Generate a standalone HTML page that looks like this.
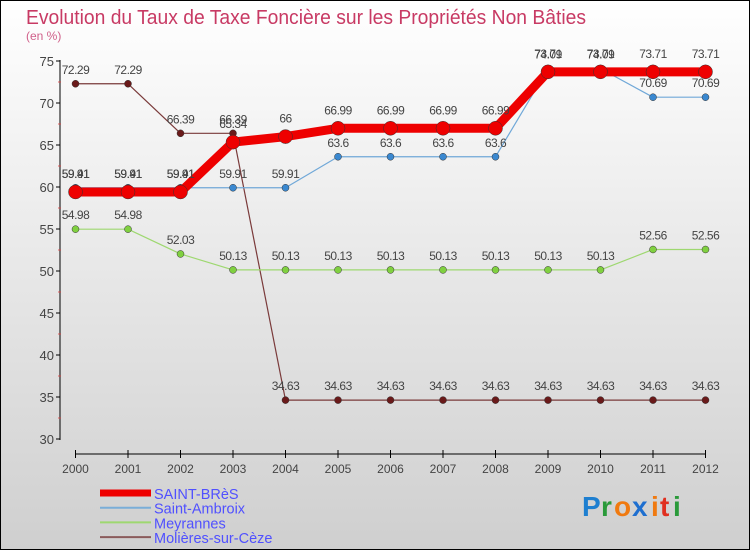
<!DOCTYPE html>
<html><head><meta charset="utf-8"><style>
body{margin:0;width:750px;height:550px;overflow:hidden;font-family:"Liberation Sans",sans-serif}
svg{display:block}
</style></head><body>
<svg id="c" width="750" height="550" viewBox="0 0 750 550">
<defs><linearGradient id="bg" x1="0" y1="0" x2="0" y2="1"><stop offset="0" stop-color="#ffffff"/><stop offset="1" stop-color="#cfcfcf"/></linearGradient></defs>
<rect x="0.5" y="0.5" width="749" height="549" fill="url(#bg)" stroke="#000"/>
<text x="26" y="24" font-size="20" fill="#c83a64" textLength="560" lengthAdjust="spacingAndGlyphs">Evolution du Taux de Taxe Foncière sur les Propriétés Non Bâties</text>
<text x="26" y="40" font-size="12" fill="#d0608a">(en %)</text>
<g id="axes"></g>
<g id="series"></g>
<g id="legend"></g>
<g font-size="28" font-weight="bold">
<text x="582" y="516" fill="#1e7fd0">P</text><text x="601" y="516" fill="#2a9a3a">r</text><text x="614" y="516" fill="#f07a10">o</text><text x="632" y="516" fill="#1e6fd0">x</text><text x="651" y="516" fill="#f07a10">i</text><text x="660" y="516" fill="#e03020">t</text><text x="673" y="516" fill="#2a9a3a">i</text>
</g>
</svg>
<script>
const years=[2000,2001,2002,2003,2004,2005,2006,2007,2008,2009,2010,2011,2012];
const yTicks=[30,35,40,45,50,55,60,65,70,75];
const saintBres=[59.41,59.41,59.41,65.34,66,66.99,66.99,66.99,66.99,73.71,73.71,73.71,73.71];
const saintAmbroix=[59.91,59.91,59.91,59.91,59.91,63.6,63.6,63.6,63.6,74.09,74.09,70.69,70.69];
const meyrannes=[54.98,54.98,52.03,50.13,50.13,50.13,50.13,50.13,50.13,50.13,50.13,52.56,52.56];
const molieres=[72.29,72.29,66.39,66.39,34.63,34.63,34.63,34.63,34.63,34.63,34.63,34.63,34.63];
const NS="http://www.w3.org/2000/svg";
const X=i=>75.5+i*(705.5-75.5)/(years.length-1);
const Y=v=>439-(v-30)*(439-61)/45;
function el(t,a,p){const e=document.createElementNS(NS,t);for(const k in a)e.setAttribute(k,a[k]);p.appendChild(e);return e;}
const ax=document.getElementById('axes');
const yl=el('line',{x1:60,y1:60,x2:60,y2:440,stroke:'#000'},ax);


for(let v=32.5;v<75;v+=5){el('line',{x1:58,x2:61,y1:Y(v),y2:Y(v),stroke:'#e04040','stroke-width':0.8},ax);}
yTicks.forEach(v=>{
 el('line',{x1:56,x2:60,y1:Y(v),y2:Y(v),stroke:'#000'},ax);
 const t=el('text',{x:54,y:Y(v)+5,'text-anchor':'end','font-size':13,fill:'#444'},ax);t.textContent=v;
 
 
});
const xl=el('line',{x1:75,y1:454,x2:706,y2:454,stroke:'#000'},ax);


years.forEach((y,i)=>{
 el('line',{x1:X(i),x2:X(i),y1:450,y2:458,stroke:'#000'},ax);
 const t=el('text',{x:X(i),y:473,'text-anchor':'middle','font-size':12,fill:'#444'},ax);t.textContent=y;
 
 
});
const sg=document.getElementById('series');
function draw(data,name,color,w,r,dot,lab){
 const g=el('g',{},sg);
 
 
 const p=el('polyline',{points:data.map((v,i)=>X(i)+','+Y(v)).join(' '),fill:'none',stroke:color,'stroke-width':w,'stroke-linejoin':'round'},g);
 
 
 data.forEach((v,i)=>{
  const c=el('circle',{cx:X(i),cy:Y(v),r:r,fill:dot,stroke:'#333','stroke-width':0.5},g);
  
  
  const t=el('text',{x:X(i),y:Y(v)-lab,'text-anchor':'middle','font-size':12,fill:'#444','letter-spacing':'-0.5'},g);t.textContent=String(v);
  
  
 });
}
draw(molieres,'molieres-sur-ceze','#7a3a3a',1.2,3.5,'#6a1a1a',10);
draw(meyrannes,'meyrannes','#9ed870',1.2,3.5,'#80d040',10);
draw(saintAmbroix,'saint-ambroix','#70a8d8',1.2,3.5,'#3a88d0',10);
draw(saintBres,'saint-bres','#ee0000',9,7,'#ee0000',14);
const lg=document.getElementById('legend');
[['SAINT-BRèS','#ee0000',7],['Saint-Ambroix','#7aaed8',2],['Meyrannes','#9ed870',2],['Molières-sur-Cèze','#8a5a5a',2]].forEach((d,i)=>{
 const y=493+i*14.7;
 const l=el('line',{x1:100,x2:151,y1:y,y2:y,stroke:d[1],'stroke-width':d[2]},lg);
 
 
 const t=el('text',{x:154,y:y+6,'font-size':14.5,fill:'#5050ff'},lg);t.textContent=d[0];
 
 
});
</script>
</body></html>
